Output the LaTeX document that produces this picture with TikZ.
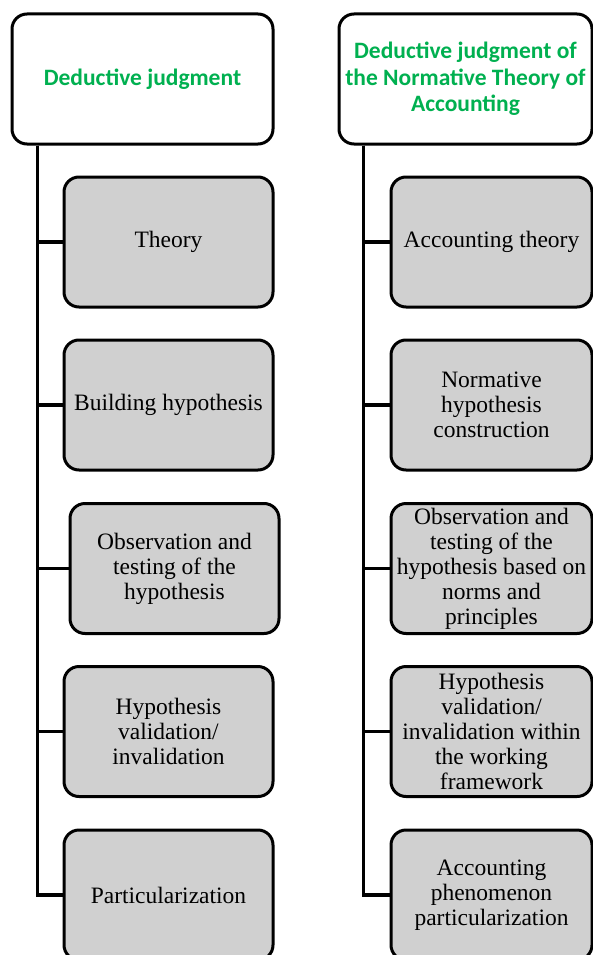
\documentclass[tikz,border=0pt]{standalone}
\usepackage{fontspec}
\setmainfont{Liberation Serif}
\newfontfamily\titlefont{Carlito}
\definecolor{titlegreen}{RGB}{0,176,80}
\definecolor{boxgray}{RGB}{208,208,208}
\begin{document}
\begin{tikzpicture}[x=1pt,y=-1pt,
  headbox/.style={draw=black, line width=3pt, rounded corners=15pt, fill=white,
    minimum width=261pt, minimum height=130pt, inner sep=0pt, align=center,
    font=\titlefont\bfseries\fontsize{23.5}{26.3}\selectfont, text=titlegreen},
  stepbox/.style={draw=black, line width=3pt, rounded corners=15pt, fill=boxgray,
    minimum width=209pt, minimum height=130pt, inner sep=0pt, align=center,
    font=\fontsize{23.5}{25}\selectfont},
  rstepbox/.style={stepbox, minimum width=201pt},
  link/.style={draw=black, line width=3.2pt}]
\useasboundingbox (0,0) rectangle (593,955);
\clip (0,0) rectangle (593,955);
% left column
\node[headbox] (L0) at (142.5,79) {\raisebox{-2pt}{Deductive judgment}};
\node[stepbox] (L1) at (168.5,242) {Theory};
\node[stepbox] (L2) at (168.5,405) {Building hypothesis};
\node[stepbox] (L3) at (174.5,568.5) {Observation and\\testing of the\\hypothesis};
\node[stepbox] (L4) at (168.5,731.5) {Hypothesis\\validation/\\invalidation};
\node[stepbox] (L5) at (168.5,895) {Particularization};
% right column
\node[headbox, minimum width=253pt] (R0) at (465.5,79) {\raisebox{-2pt}{\parbox{253pt}{\centering Deductive judgment of\\the Normative Theory of\\Accounting}}};
\node[rstepbox] (R1) at (491.5,242) {Accounting theory};
\node[rstepbox] (R2) at (491.5,405) {Normative\\hypothesis\\construction};
\node[rstepbox] (R3) at (491.5,568.5) {Observation and\\testing of the\\hypothesis based on\\norms and\\principles};
\node[rstepbox] (R4) at (491.5,731.5) {Hypothesis\\validation/\\invalidation within\\the working\\framework};
\node[rstepbox] (R5) at (491.5,895) {Accounting\\phenomenon\\particularization};
% trunks
\coordinate (LT) at ([xshift=27pt]L0.south west);
\coordinate (RT) at ([xshift=26pt]R0.south west);
\foreach \i in {1,...,5} {
  \draw[link] (LT) |- (L\i.west);
  \draw[link] (RT) |- (R\i.west);
}
\end{tikzpicture}
\end{document}
